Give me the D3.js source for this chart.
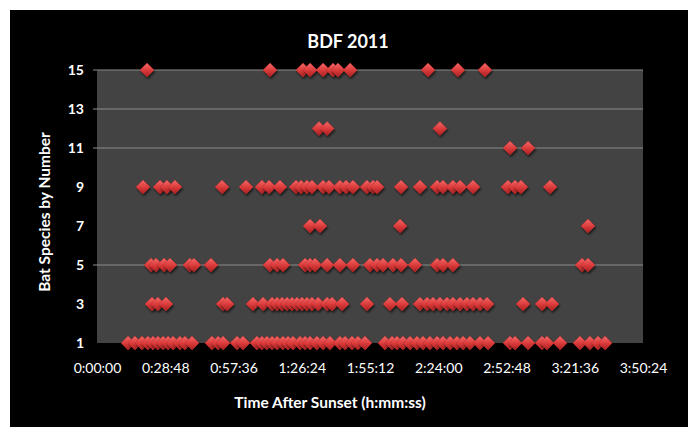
<!DOCTYPE html>
<html><head><meta charset="utf-8">
<script src="https://cdn.jsdelivr.net/npm/d3@7"></script>
<style>html,body{margin:0;padding:0;background:#fff;}svg{display:block;}</style>
</head><body>
<script>
// Detection times (minutes after sunset) for each bat species number
const sp1 = [13.1,16.0,19.0,21.5,23.6,25.7,27.9,30.0,32.1,35.0,37.1,40.1,48.5,51.1,53.2,59.1,61.6,67.5,69.6,71.7,73.9,76.0,78.5,80.6,82.7,85.7,87.8,89.9,92.8,95.4,98.3,102.5,104.7,107.6,110.1,113.1,121.5,124.5,126.6,129.1,132.1,135.0,137.6,140.5,143.5,146.0,149.0,151.9,154.5,157.4,161.6,165.0,174.3,176.4,181.9,187.8,189.9,195.4,203.8,208.0,211.4,214.4];
const sp3 = [23.2,25.7,29.1,53.2,54.9,65.8,70.1,73.9,76.0,78.1,80.2,82.3,84.4,86.5,88.6,90.7,93.3,97.1,99.2,103.4,113.9,123.6,128.7,136.3,139.3,141.8,144.7,147.7,150.2,153.2,156.1,158.7,161.6,164.6,179.8,187.8,192.0];
const sp5 = [22.8,24.9,28.3,30.8,39.2,40.9,48.1,73.0,76.0,78.5,87.8,89.9,92.0,97.1,102.5,108.0,115.2,118.2,120.7,124.9,128.3,134.2,143.5,146.0,150.2,204.7,207.2];
const sp7 = [89.9,94.1,127.9,207.2];
const sp9 = [19.4,26.6,29.5,32.9,52.8,62.9,69.6,72.6,77.2,84.0,86.1,88.6,90.7,95.4,97.9,102.5,105.1,108.0,113.9,116.5,118.2,128.3,136.3,143.5,146.0,150.2,153.2,158.7,173.4,176.4,178.9,191.2];
const sp11 = [174.3,181.9];
const sp12 = [93.7,97.1,144.7];
const sp15 = [21.1,73.0,86.9,89.9,95.4,99.6,101.7,106.8,139.7,152.3,163.7];
const speciesNumbers = [1,3,5,7,9,11,12,15];
const speciesTimes = [sp1,sp3,sp5,sp7,sp9,sp11,sp12,sp15];
const yTicks = [1,3,5,7,9,11,13,15];
const xTickSeconds = [0,1728,3456,5184,6912,8640,10368,12096,13824];
const gridShown = [5,11,13,15];

const W=688,H=427;
const svg=d3.select("body").append("svg").attr("width",W).attr("height",H);
svg.append("rect").attr("x",10).attr("y",10).attr("width",W-10).attr("height",H-10).attr("fill","#000");

const x=d3.scaleLinear().domain([0,13824]).range([97,643]);
const y=d3.scaleLinear().domain([1,15]).range([343,70]);

const defs=svg.append("defs");
const g1=defs.append("linearGradient").attr("id","dg").attr("x1","0").attr("y1","0").attr("x2","0").attr("y2","1");
g1.append("stop").attr("offset","0").attr("stop-color","#f26a6a");
g1.append("stop").attr("offset","0.5").attr("stop-color","#dd3c3c");
g1.append("stop").attr("offset","1").attr("stop-color","#a81e1e");
const f=defs.append("filter").attr("id","sh").attr("x","-50%").attr("y","-50%").attr("width","200%").attr("height","200%");
f.append("feDropShadow").attr("dx",1).attr("dy",2).attr("stdDeviation",1.2).attr("flood-color","#000").attr("flood-opacity",0.6);

// plot area
svg.append("rect").attr("x",x(0)).attr("y",y(15)).attr("width",x(13824)-x(0)).attr("height",y(1)-y(15)).attr("fill","#434343");

// gridlines
svg.append("g").selectAll("line").data(gridShown).join("line")
  .attr("x1",x(0)-4).attr("x2",x(13824)).attr("y1",d=>y(d)).attr("y2",d=>y(d))
  .attr("stroke","#8c8c8c").attr("stroke-width",1);

// axes
const fmt=s=>{const h=Math.floor(s/3600),m=Math.floor((s%3600)/60),sec=s%60;return h+":"+String(m).padStart(2,"0")+":"+String(sec).padStart(2,"0");};
const xAxis=svg.append("g").attr("transform",`translate(0,${y(1)})`)
  .call(d3.axisBottom(x).tickValues(xTickSeconds).tickFormat(fmt).tickSize(0).tickPadding(20));
xAxis.select(".domain").remove();
xAxis.selectAll("text").attr("fill","#fff").attr("font-family","Lato, sans-serif").attr("font-size",14);

const yAxis=svg.append("g").attr("transform",`translate(${x(0)},0)`)
  .call(d3.axisLeft(y).tickValues(yTicks).tickSize(0).tickPadding(13));
yAxis.select(".domain").remove();
yAxis.selectAll("text").attr("fill","#fff").attr("font-family","Lato, sans-serif").attr("font-size",14).attr("font-weight","bold");

// points
const pts=[];
speciesNumbers.forEach((sp,i)=>speciesTimes[i].forEach(t=>pts.push({sp,t:t*60})));
const r=7;
svg.append("g").selectAll("path").data(pts).join("path")
  .attr("d",d=>{const cx=x(d.t),cy=y(d.sp);return `M${cx},${cy-r}L${cx+r},${cy}L${cx},${cy+r}L${cx-r},${cy}Z`;})
  .attr("fill","url(#dg)").attr("stroke","#c03030").attr("stroke-width",0.5).attr("filter","url(#sh)");

// titles
svg.append("text").attr("x",348).attr("y",48).attr("text-anchor","middle").attr("fill","#fff")
  .attr("font-family","Lato, sans-serif").attr("font-weight","bold").attr("font-size",18).text("BDF 2011");
svg.append("text").attr("transform","translate(50,212) rotate(-90)").attr("text-anchor","middle").attr("fill","#fff")
  .attr("font-family","Lato, sans-serif").attr("font-weight","bold").attr("font-size",15.5).text("Bat Species by Number");
svg.append("text").attr("x",330).attr("y",408).attr("text-anchor","middle").attr("fill","#fff")
  .attr("font-family","Lato, sans-serif").attr("font-weight","bold").attr("font-size",15.5).text("Time After Sunset (h:mm:ss)");
</script>
</body></html>
